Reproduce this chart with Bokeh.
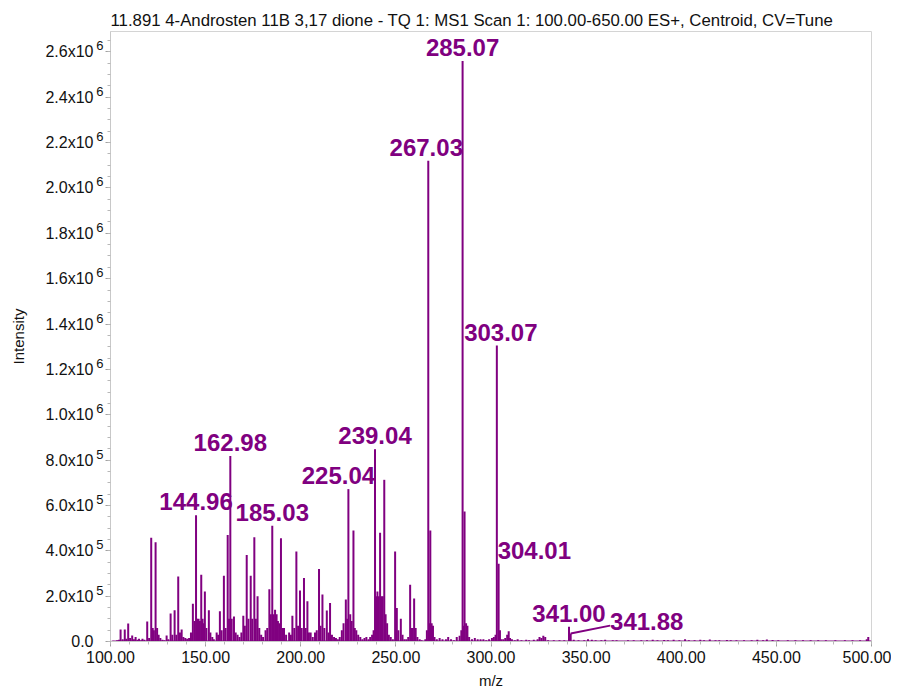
import numpy as np
from bokeh.plotting import figure
from bokeh.models import FixedTicker, Range1d, ColumnDataSource, LinearAxis
from bokeh.core.properties import value
from bokeh.embed import file_html
from bokeh.resources import INLINE

TITLE = "11.891 4-Androsten 11B 3,17 dione - TQ 1: MS1 Scan 1: 100.00-650.00 ES+, Centroid, CV=Tune"

mz = [101.0, 103.5, 104.5, 105.3, 106.4, 107.5, 108.3, 109.3, 110.3, 111.4, 112.3, 113.2, 114.2, 115.0,
      116.1, 116.8, 117.8, 119.3, 120.3, 121.4, 122.2, 122.8, 123.7, 124.5, 125.3, 126.2, 127.3, 128.3,
      129.5, 130.4, 131.6, 132.5, 133.7, 134.6, 135.6, 136.5, 137.4, 138.3, 139.3, 140.3, 141.3, 142.3,
      143.3, 144.2, 144.96, 145.5, 146.3, 147.0, 147.7, 148.4, 149.0, 149.6, 150.4, 151.7, 152.5, 153.5,
      154.3, 155.8, 156.6, 157.5, 158.4, 159.6, 160.5, 161.6, 162.3, 162.98, 163.7, 164.9, 165.8, 166.8,
      167.8, 168.8, 169.8, 170.6, 171.6, 172.5, 173.7, 174.5, 175.6, 176.4, 177.3, 178.2, 179.2, 180.2,
      181.5, 182.4, 183.5, 184.3, 185.03, 185.8, 186.5, 187.3, 188.0, 188.7, 189.6, 190.4, 191.2, 192.3,
      193.9, 194.8, 195.6, 196.6, 197.7, 198.6, 199.6, 200.5, 201.7, 202.6, 203.5, 204.3, 205.2, 206.3,
      207.5, 208.4, 209.6, 210.4, 211.4, 212.4, 213.7, 214.6, 215.4, 216.4, 217.5, 218.5, 219.5, 220.5,
      221.6, 222.5, 223.7, 224.4, 225.04, 226.0, 226.8, 227.7, 228.4, 229.2, 230.2, 231.3, 232.4, 233.5,
      234.5, 235.6, 236.5, 237.5, 238.3, 239.04, 239.6, 240.3, 241.0, 241.7, 242.4, 243.1, 243.9, 244.6,
      245.4, 246.3, 247.3, 248.4, 249.6, 250.5, 251.3, 252.6, 253.5, 254.5, 255.5, 256.5, 257.5, 258.3,
      258.9, 259.6, 260.4, 261.3, 262.5, 263.5, 265.5, 266.3, 267.03, 267.6, 268.1, 268.8, 269.5, 270.3,
      271.5, 273.0, 274.5, 276.3, 277.5, 279.0, 280.5, 282.0, 283.5, 284.4, 285.07, 285.6, 286.1, 286.9,
      287.6, 288.5, 290.0, 291.5, 293.0, 294.5, 296.0, 297.5, 299.0, 300.5, 301.5, 302.4, 303.07, 304.01,
      304.7, 305.5, 306.5, 307.5, 308.5, 309.3, 310.0, 311.0, 312.5, 314.0, 316.0, 318.5, 320.0, 322.5,
      324.5, 325.5, 326.5, 327.5, 328.5, 330.0, 333.0, 336.0, 338.5, 341.00, 341.88, 343.5, 346.0, 349.0,
      351.0, 353.0, 355.0, 358.0, 360.0, 364.0, 366.0, 372.0, 375.0, 379.0, 382.0, 385.0, 387.5, 391.0,
      393.0, 396.0, 399.0, 402.0, 404.0, 407.0, 410.0, 412.0, 415.0, 418.0, 420.0, 424.0, 426.0, 429.0,
      433.0, 437.0, 440.0, 443.0, 445.0, 448.0, 451.0, 456.0, 460.0, 464.0, 468.0, 472.0, 476.0, 481.0,
      486.0, 490.0, 494.0, 497.5, 498.3, 499.6]

intensity = [0.003, 0.006, 0.008, 0.053, 0.010, 0.053, 0.012, 0.079, 0.015, 0.026, 0.010, 0.020, 0.008, 0.012,
             0.006, 0.012, 0.008, 0.088, 0.015, 0.458, 0.060, 0.050, 0.438, 0.060, 0.030, 0.015, 0.008, 0.005,
             0.026, 0.010, 0.123, 0.030, 0.138, 0.030, 0.287, 0.040, 0.053, 0.020, 0.015, 0.012, 0.015, 0.040,
             0.167, 0.090, 0.557, 0.100, 0.100, 0.090, 0.294, 0.100, 0.080, 0.221, 0.060, 0.138, 0.040, 0.020,
             0.010, 0.040, 0.030, 0.133, 0.050, 0.290, 0.060, 0.470, 0.100, 0.818, 0.100, 0.110, 0.040, 0.030,
             0.020, 0.040, 0.114, 0.070, 0.382, 0.100, 0.290, 0.100, 0.460, 0.100, 0.200, 0.060, 0.030, 0.020,
             0.050, 0.060, 0.230, 0.120, 0.510, 0.120, 0.140, 0.120, 0.090, 0.080, 0.455, 0.060, 0.060, 0.030,
             0.040, 0.030, 0.114, 0.060, 0.397, 0.070, 0.225, 0.060, 0.280, 0.060, 0.177, 0.040, 0.040, 0.020,
             0.040, 0.050, 0.320, 0.070, 0.207, 0.060, 0.137, 0.040, 0.170, 0.030, 0.020, 0.015, 0.010, 0.020,
             0.050, 0.080, 0.185, 0.100, 0.672, 0.120, 0.090, 0.490, 0.060, 0.050, 0.030, 0.020, 0.010, 0.015,
             0.020, 0.010, 0.020, 0.030, 0.050, 0.848, 0.200, 0.220, 0.200, 0.480, 0.200, 0.200, 0.713, 0.120,
             0.080, 0.030, 0.020, 0.010, 0.397, 0.148, 0.050, 0.100, 0.030, 0.010, 0.010, 0.020, 0.250, 0.060,
             0.060, 0.190, 0.060, 0.020, 0.010, 0.005, 0.010, 0.050, 2.120, 0.080, 0.490, 0.080, 0.070, 0.020,
             0.010, 0.015, 0.010, 0.010, 0.020, 0.010, 0.005, 0.020, 0.025, 0.050, 2.560, 0.070, 0.573, 0.080,
             0.070, 0.020, 0.010, 0.015, 0.010, 0.010, 0.010, 0.005, 0.010, 0.015, 0.020, 0.030, 1.305, 0.343,
             0.050, 0.010, 0.010, 0.015, 0.030, 0.045, 0.015, 0.010, 0.005, 0.010, 0.005, 0.008, 0.005, 0.008,
             0.010, 0.020, 0.015, 0.025, 0.020, 0.005, 0.005, 0.006, 0.005, 0.065, 0.035, 0.008, 0.006, 0.005,
             0.010, 0.008, 0.006, 0.005, 0.008, 0.006, 0.005, 0.006, 0.005, 0.006, 0.005, 0.008, 0.006, 0.007,
             0.005, 0.008, 0.006, 0.010, 0.006, 0.005, 0.008, 0.006, 0.009, 0.005, 0.006, 0.007, 0.005, 0.006,
             0.005, 0.006, 0.008, 0.005, 0.009, 0.007, 0.006, 0.005, 0.006, 0.005, 0.006, 0.005, 0.006, 0.005,
             0.006, 0.005, 0.006, 0.010, 0.020, 0.003]
intensity = [v * 1e6 for v in intensity]

label_mz = [144.96, 162.98, 185.03, 225.04, 239.04, 267.03, 285.07, 303.07, 304.01, 341.00]
lead_label_mz = 341.88

x_ticks = [100, 150, 200, 250, 300, 350, 400, 450, 500]
x_tick_labels = ["100.00", "150.00", "200.00", "250.00", "300.00", "350.00", "400.00", "450.00", "500.00"]
y_ticks = [0, 2e5, 4e5, 6e5, 8e5, 1.0e6, 1.2e6, 1.4e6, 1.6e6, 1.8e6, 2.0e6, 2.2e6, 2.4e6, 2.6e6]
y_tick_mantissa = ["0.0", "2.0x10", "4.0x10", "6.0x10", "8.0x10", "1.0x10", "1.2x10", "1.4x10",
                   "1.6x10", "1.8x10", "2.0x10", "2.2x10", "2.4x10", "2.6x10"]
y_tick_exponent = ["", "5", "5", "5", "5", "6", "6", "6", "6", "6", "6", "6", "6", "6"]

PURPLE = "#800080"
FONT = "Liberation Sans"
TXT = "#111111"
Y_END = 2.69e6
FRAME_H = 611
SUP_SHIFT = 6 * Y_END / FRAME_H   # raise superscripts by about 6 px

p = figure(width=891, height=691, output_backend="svg", toolbar_location=None,
           x_range=Range1d(100, 500), y_range=Range1d(0, Y_END),
           min_border_left=110, min_border_right=20, min_border_top=31, min_border_bottom=49,
           x_axis_label="m/z")
p.extra_y_ranges = {"sup": Range1d(-SUP_SHIFT, Y_END - SUP_SHIFT)}
p.title.text = TITLE
p.title.text_font = FONT
p.title.text_font_size = "16.8px"
p.title.text_font_style = "normal"
p.title.text_color = TXT
p.title.align = "left"
p.title.standoff = 4
p.xgrid.visible = False
p.ygrid.visible = False
p.outline_line_color = "#d4d4d4"
p.background_fill_color = "white"
p.border_fill_color = "white"

mz_arr = np.array(mz)
int_arr = np.array(intensity)
src = ColumnDataSource(dict(x=mz_arr, y0=np.zeros_like(mz_arr), y1=int_arr))
p.segment(x0="x", y0="y0", x1="x", y1="y1", source=src, line_color=PURPLE, line_width=2)
p.line(x=[mz_arr.min(), mz_arr.max()], y=[0, 0], line_color=PURPLE, line_width=2)

lab_int = [int_arr[np.argmin(np.abs(mz_arr - m))] for m in label_mz]
lab_src = ColumnDataSource(dict(
    x=label_mz, y=lab_int, text=["%.2f" % m for m in label_mz],
    align=["center", "center", "center", "center", "center", "center", "center", "center", "left", "center"],
    dx=[0, 0, 0, -10, 0, -2, 0, 4, -1, 0]))
p.text(x="x", y="y", text="text", source=lab_src, text_align="align", text_baseline="bottom",
       x_offset="dx", y_offset=-5, text_color=PURPLE, text_font=value(FONT),
       text_font_style="bold", text_font_size="24px")

# leader-line label
lead_int = int_arr[np.argmin(np.abs(mz_arr - lead_label_mz))]
lead_x = lead_label_mz + 20.7
lead_y = 0.05e6
p.segment(x0=[lead_label_mz], y0=[lead_int], x1=[lead_x], y1=[lead_y + 0.02e6],
          line_color=PURPLE, line_width=2)
p.text(x=[lead_x], y=[lead_y], text=["%.2f" % lead_label_mz], text_align="left",
       text_baseline="bottom", text_color=PURPLE, text_font=value(FONT),
       text_font_style="bold", text_font_size="24px")

# x axis
p.xaxis.ticker = FixedTicker(ticks=x_ticks, minor_ticks=list(np.arange(100, 501, 10)))
p.xaxis.major_label_overrides = {t: l for t, l in zip(x_ticks, x_tick_labels)}
p.xaxis.major_label_standoff = 4
p.xaxis.axis_label_standoff = 6

# y axis 1 (next to frame): ticks only
ya = p.yaxis[0]
ya.ticker = FixedTicker(ticks=y_ticks, minor_ticks=list(np.arange(0, 2.66e6, 0.05e6)))
ya.major_label_overrides = {t: "" for t in y_ticks}
ya.major_label_standoff = 0

for ax in (p.xaxis[0], ya):
    ax.axis_line_color = "#c8c8c8"
    ax.major_tick_line_color = "#a0a0a0"
    ax.minor_tick_line_color = "#b8b8b8"
    ax.major_tick_out = 5
    ax.major_tick_in = 0
    ax.minor_tick_out = 3
    ax.minor_tick_in = 0
    ax.major_label_text_font = FONT
    ax.major_label_text_font_size = "16px"
    ax.major_label_text_color = TXT
    ax.axis_label_text_font = FONT
    ax.axis_label_text_font_size = "15px"
    ax.axis_label_text_font_style = "normal"
    ax.axis_label_text_color = TXT

# y axis 2: superscript exponents, raised
ysup = LinearAxis(y_range_name="sup", ticker=FixedTicker(ticks=y_ticks, minor_ticks=[]))
ysup.major_label_overrides = {t: e for t, e in zip(y_ticks, y_tick_exponent)}
# y axis 3: mantissas and axis title
ymant = LinearAxis(ticker=FixedTicker(ticks=y_ticks, minor_ticks=[]), axis_label="Intensity")
ymant.major_label_overrides = {t: m for t, m in zip(y_ticks, y_tick_mantissa)}
for ax, size, so in ((ysup, "13px", 2), (ymant, "16px", 0)):
    ax.axis_line_color = None
    ax.major_tick_line_color = None
    ax.minor_tick_line_color = None
    ax.major_tick_out = 0
    ax.major_tick_in = 0
    ax.major_label_standoff = so
    ax.major_label_text_font = FONT
    ax.major_label_text_font_size = size
    ax.major_label_text_color = TXT
    ax.axis_label_text_font = FONT
    ax.axis_label_text_font_size = "15px"
    ax.axis_label_text_font_style = "normal"
    ax.axis_label_text_color = TXT
ymant.axis_label_standoff = 15
p.add_layout(ysup, "left")
p.add_layout(ymant, "left")

open("out.html", "w").write(file_html(p, INLINE))
